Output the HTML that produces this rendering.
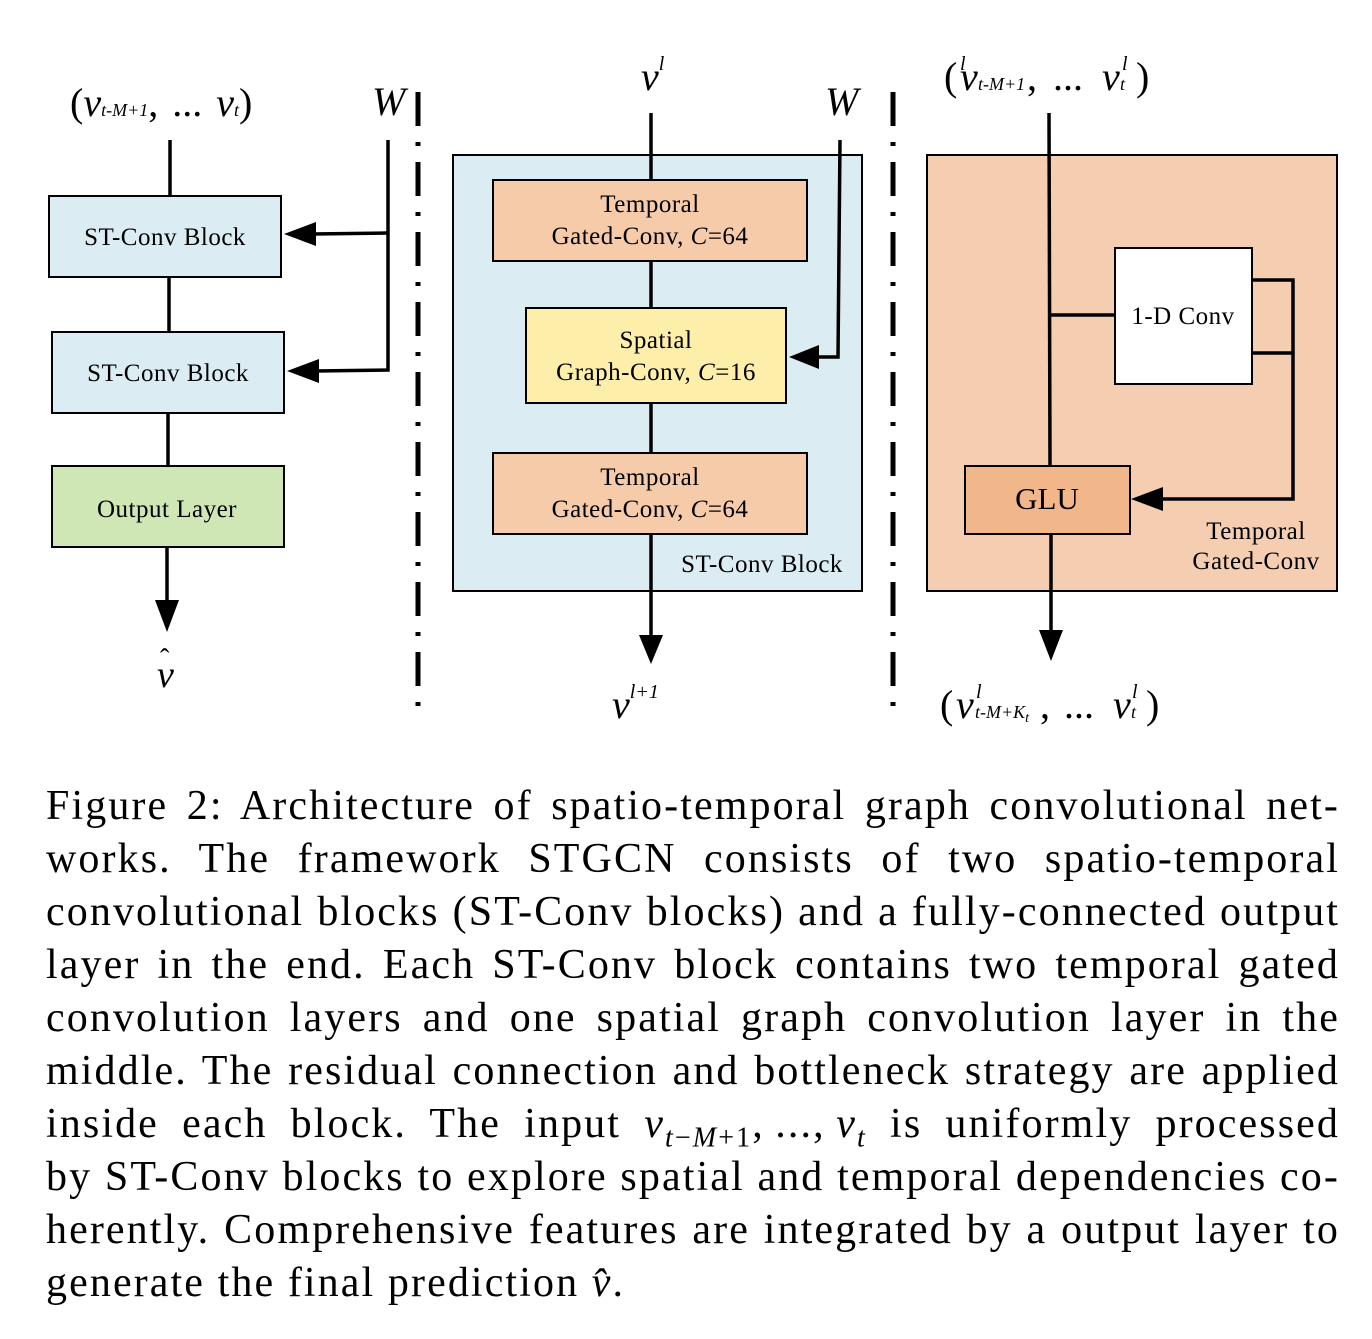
<!DOCTYPE html>
<html><head><meta charset="utf-8"><style>
body{margin:0;background:#fff;width:1372px;height:1339px;position:relative;overflow:hidden;font-family:"Liberation Serif",serif}
.cap{position:absolute;left:46px;width:1294px;font-size:42px;letter-spacing:2.1px;line-height:53px;text-align:justify;text-align-last:justify;white-space:nowrap}
.cap.l{text-align-last:left}
</style></head><body>
<svg width="1372" height="740" style="position:absolute;left:0;top:0" font-family="Liberation Serif, serif">
<g stroke="#000" stroke-width="4" fill="none">
<line x1="418" y1="92" x2="418" y2="720" stroke-width="5" stroke-dasharray="34 16 4 16"/>
<line x1="893" y1="92" x2="893" y2="720" stroke-width="5" stroke-dasharray="34 16 4 16"/>
</g>
<g stroke="#000" stroke-width="2">
<rect x="49" y="196" width="232" height="81" fill="#dbedf3"/>
<rect x="52" y="332" width="232" height="81" fill="#dbedf3"/>
<rect x="52" y="466" width="232" height="81" fill="#cfe6b5"/>
</g>
<g stroke="#000" stroke-width="3.5" fill="none">
<line x1="170" y1="140" x2="170" y2="196"/>
<line x1="169" y1="277" x2="169" y2="332"/>
<line x1="168" y1="413" x2="168" y2="466"/>
<polyline points="388,140 388,370 314,371"/>
<line x1="388" y1="233" x2="312" y2="234"/>
<line x1="167" y1="547" x2="167" y2="605"/>
</g>
<path d="M284,234 L316,222 L316,246z"/><path d="M287,371 L319,359 L319,383z"/><path d="M155,600 L179,600 L167,632z"/>
<g font-size="25" text-anchor="middle" letter-spacing="0.5"><text x="165" y="245">ST-Conv Block</text><text x="168" y="381">ST-Conv Block</text><text x="167" y="517">Output Layer</text></g>
<text x="70" y="116" font-size="40">(<tspan font-style="italic">v</tspan><tspan font-style="italic" font-size="18">t-M+1</tspan>,<tspan dx="14">...</tspan><tspan dx="14" font-style="italic">v</tspan><tspan font-style="italic" font-size="18">t</tspan>)</text>
<text x="372" y="115" font-size="40" font-style="italic">W</text>
<text x="157" y="687" font-size="38" font-style="italic">v</text><text x="160" y="668" font-size="28">ˆ</text>
<rect x="453" y="155" width="409" height="436" fill="#dbedf3" stroke="#000" stroke-width="2"/>
<g stroke="#000" stroke-width="3.5" fill="none">
<line x1="651" y1="113" x2="651" y2="640"/>
<polyline points="840,140 838,357 815,357"/>
</g>
<path d="M639,635 L663,635 L651,664z"/><path d="M789,357 L819,345 L819,369z"/>
<g stroke="#000" stroke-width="2">
<rect x="493" y="180" width="314" height="81" fill="#f5cbaa"/>
<rect x="526" y="308" width="260" height="95" fill="#fdeeaa"/>
<rect x="493" y="453" width="314" height="81" fill="#f5cbaa"/>
</g>
<g font-size="25" text-anchor="middle" letter-spacing="0.5">
<text x="650" y="212">Temporal</text><text x="650" y="244">Gated-Conv, <tspan font-style="italic">C</tspan>=64</text>
<text x="656" y="348">Spatial</text><text x="656" y="380">Graph-Conv, <tspan font-style="italic">C</tspan>=16</text>
<text x="650" y="485">Temporal</text><text x="650" y="517">Gated-Conv, <tspan font-style="italic">C</tspan>=64</text>
<text x="762" y="572">ST-Conv Block</text>
</g>
<text x="641" y="90" font-size="40" font-style="italic">v<tspan font-size="20" dy="-20">l</tspan></text>
<text x="612" y="718" font-size="40" font-style="italic">v<tspan font-size="20" dy="-20">l+1</tspan></text>
<text x="825" y="115" font-size="40" font-style="italic">W</text>
<rect x="927" y="155" width="410" height="436" fill="#f5cdb0" stroke="#000" stroke-width="2"/>
<g stroke="#000" stroke-width="3.5" fill="none">
<line x1="1049" y1="113" x2="1050" y2="466"/>
<line x1="1050" y1="315" x2="1115" y2="315"/>
<polyline points="1252,280 1293,280 1293,499 1160,499"/>
<line x1="1252" y1="353" x2="1293" y2="353"/>
<line x1="1051" y1="534" x2="1051" y2="635"/>
</g>
<rect x="1115" y="248" width="137" height="136" fill="#fff" stroke="#000" stroke-width="2"/>
<rect x="965" y="466" width="165" height="68" fill="#f1b68a" stroke="#000" stroke-width="2"/>
<path d="M1131,499 L1163,487 L1163,511z"/><path d="M1039,630 L1063,630 L1051,661z"/>
<text x="1183" y="324" font-size="25" text-anchor="middle" letter-spacing="0.5">1-D Conv</text>
<text x="1047" y="509" font-size="31" text-anchor="middle">GLU</text>
<text x="1256" y="539" font-size="25" text-anchor="middle" letter-spacing="0.5">Temporal</text>
<text x="1256" y="569" font-size="25" text-anchor="middle" letter-spacing="0.5">Gated-Conv</text>
<g font-size="40">
<text x="944" y="90">(</text><text x="960" y="90" font-style="italic">v</text>
<text x="960" y="70" font-size="20" font-style="italic">l</text><text x="978" y="90" font-size="18" font-style="italic">t-M+1</text>
<text x="1027" y="90">,</text><text x="1053" y="90">...</text>
<text x="1102" y="90" font-style="italic">v</text><text x="1122" y="70" font-size="20" font-style="italic">l</text><text x="1120" y="90" font-size="18" font-style="italic">t</text>
<text x="1136" y="90">)</text>
<text x="940" y="718">(</text><text x="956" y="718" font-style="italic">v</text>
<text x="976" y="698" font-size="20" font-style="italic">l</text><text x="975" y="718" font-size="18" font-style="italic">t-M+K<tspan font-size="14" dy="4">t</tspan></text>
<text x="1040" y="718">,</text><text x="1064" y="718">...</text>
<text x="1113" y="718" font-style="italic">v</text><text x="1132" y="698" font-size="20" font-style="italic">l</text><text x="1131" y="718" font-size="18" font-style="italic">t</text>
<text x="1146" y="718">)</text>
</g>
</svg>
<div class="cap" style="top:780px">Figure 2: Architecture of spatio-temporal graph convolutional net-</div>
<div class="cap" style="top:833px">works. The framework STGCN consists of two spatio-temporal</div>
<div class="cap" style="top:886px">convolutional blocks (ST-Conv blocks) and a fully-connected output</div>
<div class="cap" style="top:939px">layer in the end. Each ST-Conv block contains two temporal gated</div>
<div class="cap" style="top:992px">convolution layers and one spatial graph convolution layer in the</div>
<div class="cap" style="top:1045px">middle. The residual connection and bottleneck strategy are applied</div>
<div class="cap" style="top:1098px">inside each block. The input <i>v</i><sub style="font-size:28px"><i>t</i>−<i>M</i>+1</sub>,&#8201;...,&#8201;<i>v</i><sub style="font-size:28px"><i>t</i></sub> is uniformly processed</div>
<div class="cap" style="top:1151px">by ST-Conv blocks to explore spatial and temporal dependencies co-</div>
<div class="cap" style="top:1204px">herently. Comprehensive features are integrated by a output layer to</div>
<div class="cap l" style="top:1257px">generate the final prediction <i>v̂</i>.</div>
</body></html>
